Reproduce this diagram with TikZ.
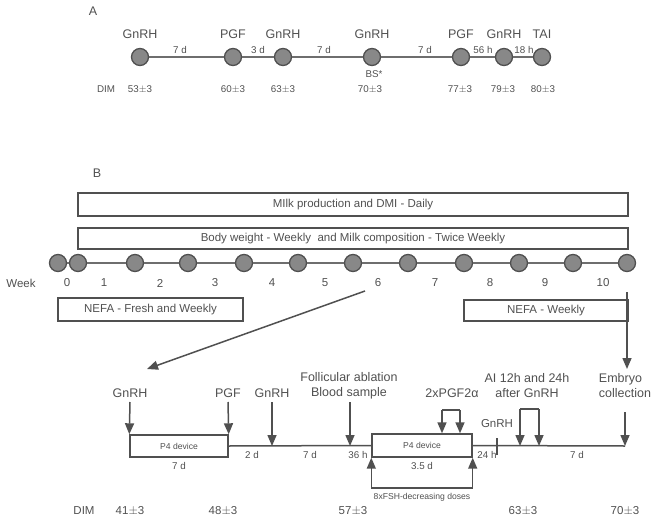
\documentclass[tikz,border=0pt]{standalone}
\usepackage{fontspec}
\setmainfont{Liberation Sans}
\usetikzlibrary{arrows.meta}
\usetikzlibrary{positioning}
\definecolor{ink}{HTML}{505050}
\definecolor{rail}{HTML}{6E6E6E}
\definecolor{dotgrey}{HTML}{888888}
\tikzstyle{dot}=[circle,draw=ink,fill=dotgrey,line width=1.3pt,inner sep=0mm,minimum size=17pt]
\tikzstyle{big}=[text=ink,font=\fontsize{12.5}{15}\selectfont,inner sep=0pt]
\tikzstyle{mid}=[text=ink,font=\fontsize{11.5}{13}\selectfont,inner sep=0pt]
\tikzstyle{small}=[text=ink,font=\fontsize{9.8}{11}\selectfont,inner sep=0pt]
\tikzstyle{tiny}=[text=ink,font=\fontsize{8.6}{10}\selectfont,inner sep=0pt]
\tikzstyle{band}=[rectangle,draw=ink,line width=1.4pt,inner sep=0pt,text=ink,font=\fontsize{11.5}{13}\selectfont]
\tikzstyle{arrow}=[-{Triangle[length=11pt,width=9pt]},draw=ink,line width=1.5pt]
\tikzset{every picture/.style={
    line width=1.5pt
  }
}

\begin{document}
\begin{tikzpicture}[x=1pt,y=-1pt]
  \useasboundingbox (0,0) rectangle (656,522);
  % ---- panel A
  \node[big] at (93,11) (pa) {A};
  \node[dot] at (140,57) (a1) {};
  \node[dot] at (233,57) (a2) {};
  \node[dot] at (283,57) (a3) {};
  \node[dot] at (372,57) (a4) {};
  \node[dot] at (461,57) (a5) {};
  \node[dot] at (504,57) (a6) {};
  \node[dot] at (542,57) (a7) {};
  \draw[rail,line width=1.7pt] (a1) -- (a2) -- (a3) -- (a4) -- (a5) -- (a6) -- (a7);
  \node[big] at (140,34) (ta1) {GnRH};
  \node[big] at (233,34) (ta2) {PGF};
  \node[big] at (283,34) (ta3) {GnRH};
  \node[big] at (372,34) (ta4) {GnRH};
  \node[big] at (461,34) (ta5) {PGF};
  \node[big] at (504,34) (ta6) {GnRH};
  \node[big] at (542,34) (ta7) {TAI};
  \node[small] at (180,50) (da1) {7 d};
  \node[small] at (258,50) (da2) {3 d};
  \node[small] at (324,50) (da3) {7 d};
  \node[small] at (425,50) (da4) {7 d};
  \node[small] at (483,50) (da5) {56 h};
  \node[small] at (524,50) (da6) {18 h};
  \node[small] at (374,74) (bs) {BS*};
  \node[small] at (106,89) (dima) {DIM};
  \node[small] at (140,89) (ma1) {53$\pm$3};
  \node[small] at (233,89) (ma2) {60$\pm$3};
  \node[small] at (283,89) (ma3) {63$\pm$3};
  \node[small] at (370,89) (ma4) {70$\pm$3};
  \node[small] at (460,89) (ma5) {77$\pm$3};
  \node[small] at (503,89) (ma6) {79$\pm$3};
  \node[small] at (543,89) (ma7) {80$\pm$3};

  % ---- panel B, weeks
  \node[big] at (97,173) (pb) {B};
  \node[band,minimum width=550pt,minimum height=23pt] at (353,204.5) (milk) {MIlk production and DMI - Daily};
  \node[band,minimum width=550pt,minimum height=21pt] at (353,238.5) (bw) {Body weight - Weekly\ \ and Milk composition - Twice Weekly};
  \node[dot] at (58,263) (w00) {};
  \node[dot] at (78,263) (w0) {};
  \node[dot] at (135,263) (w1) {};
  \node[dot] at (188,263) (w2) {};
  \node[dot] at (244,263) (w3) {};
  \node[dot] at (298,263) (w4) {};
  \node[dot] at (353,263) (w5) {};
  \node[dot] at (408,263) (w6) {};
  \node[dot] at (464,263) (w7) {};
  \node[dot] at (519,263) (w8) {};
  \node[dot] at (573,263) (w9) {};
  \node[dot] at (627,263) (w10) {};
  \draw[rail] (w00) -- (w0) -- (w1) -- (w2) -- (w3) -- (w4) -- (w5) -- (w6) -- (w7) -- (w8) -- (w9) -- (w10);
  \node[mid] at (21,283) (wk) {Week};
  \node[mid] at (67,283) (n0) {0};
  \node[mid] at (104,283) (n1) {1};
  \node[mid] at (160,283) (n2) {2};
  \node[mid] at (215,283) (n3) {3};
  \node[mid] at (272,283) (n4) {4};
  \node[mid] at (325,283) (n5) {5};
  \node[mid] at (378,283) (n6) {6};
  \node[mid] at (435,283) (n7) {7};
  \node[mid] at (490,283) (n8) {8};
  \node[mid] at (545,283) (n9) {9};
  \node[mid] at (603,283) (n10) {10};
  \node[band,minimum width=185pt,minimum height=23pt] at (150.5,309.5) (nefa1) {NEFA - Fresh and Weekly};
  \node[band,minimum width=164pt,minimum height=21pt] at (546,310.5) (nefa2) {NEFA - Weekly};

  % ---- protocol
  \coordinate (zoomfrom) at (365,291);
  \coordinate (zoomto) at (147,369);
  \draw[arrow] (zoomfrom) -- (zoomto);
  \coordinate (embfrom) at (627,292);
  \coordinate (embto) at (627,369);
  \draw[arrow] (embfrom) -- (embto);

  \node[band,minimum width=98pt,minimum height=22pt] at (179,446) (p4a) {\fontsize{8.6}{10}\selectfont P4 device};
  \node[band,minimum width=100pt,minimum height=23pt] at (422,445.5) (p4b) {\fontsize{8.6}{10}\selectfont P4 device};
  \coordinate (tend) at (625,446);
  \draw[ink] (p4a.east) -- (p4b.west);
  \draw[ink] (p4b.east) -- (tend);
  \coordinate (tick) at (497,446);
  \draw[ink] ([yshift=-9pt]tick) -- ([yshift=8pt]tick);

  \node[big] at (130,393) (g1) {GnRH};
  \node[big] at (228,393) (pgf) {PGF};
  \node[big] at (272,393) (g2) {GnRH};
  \node[big,align=center] at (349,385.5) (fa) {Follicular ablation\\Blood sample};
  \node[big] at (452,393) (pg2) {2xPGF2α};
  \node[big,align=center] at (527,385.5) (ai) {AI 12h and 24h\\after GnRH};
  \node[big,align=left] at (625,385.5) (emb) {Embryo\\collection};
  \node[mid] at (497,424) (g3) {GnRH};

  \draw[arrow] (130,402) -- (p4a.north west);
  \draw[arrow] (228,402) -- (p4a.north east);
  \draw[arrow] (272,402) -- (272,446);
  \draw[arrow] (350,402) -- (350,446);
  \draw[arrow] (625,412) -- (tend);
  % bracket 2xPGF2a
  \coordinate (pa1) at (442,410);
  \coordinate (pa2) at (460,410);
  \draw[ink] (pa1) -- (pa2);
  \draw[arrow] (pa1) -- (pa1 |- p4b.north);
  \draw[arrow] (pa2) -- (pa2 |- p4b.north);
  % bracket AI
  \coordinate (ai1) at (520,409);
  \coordinate (ai2) at (539,409);
  \draw[ink] (ai1) -- (ai2);
  \draw[arrow] (ai1) -- (ai1 |- tend);
  \draw[arrow] (ai2) -- (ai2 |- tend);
  % bracket FSH
  \coordinate (fs1) at (p4b.south west |- 0,488);
  \coordinate (fs2) at (p4b.south east |- 0,488);
  \draw[ink] (fs1) -- (fs2);
  \draw[arrow] (fs1) -- (p4b.south west);
  \draw[arrow] (fs2) -- (p4b.south east);
  \node[tiny] at (422,497) (fsh) {8xFSH-decreasing doses};

  \node[small] at (179,466) (d1) {7 d};
  \node[small] at (252,455) (d2) {2 d};
  \node[small] at (310,455) (d3) {7 d};
  \node[small] at (358,455) (d4) {36 h};
  \node[small] at (487,455) (d5) {24 h};
  \node[small] at (577,455) (d6) {7 d};
  \node[small] at (422,466) (d7) {3.5 d};

  \node[mid] at (84,511) (dimb) {DIM};
  \node[mid] at (130,511) (mb1) {41$\pm$3};
  \node[mid] at (223,511) (mb2) {48$\pm$3};
  \node[mid] at (353,511) (mb3) {57$\pm$3};
  \node[mid] at (523,511) (mb4) {63$\pm$3};
  \node[mid] at (625,511) (mb5) {70$\pm$3};
\end{tikzpicture}
\end{document}
